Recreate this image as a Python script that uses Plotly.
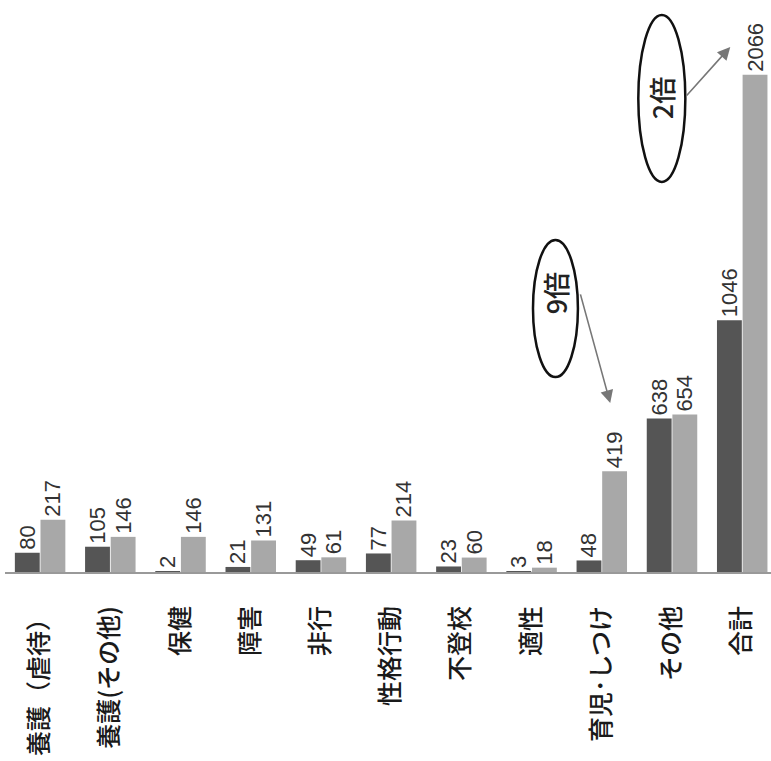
import plotly.graph_objects as go

categories = ["養護（虐待）", "養護(その他)", "保健", "障害", "非行", "性格行動",
              "不登校", "適性", "育児･しつけ", "その他", "合計"]
series_a = [80, 105, 2, 21, 49, 77, 23, 3, 48, 638, 1046]
series_b = [217, 146, 146, 131, 61, 214, 60, 18, 419, 654, 2066]

dark = "#555555"
light = "#a8a8a8"
font_fam = "Noto Sans CJK JP"

fig = go.Figure()
fig.add_trace(go.Bar(x=categories, y=series_a, marker=dict(color=dark, line=dict(width=0)),
                     text=[str(v) for v in series_a], textposition="outside", textangle=-90,
                     constraintext="none",
                     textfont=dict(family="Liberation Sans", size=22, color="#333333"),
                     cliponaxis=False, showlegend=False))
fig.add_trace(go.Bar(x=categories, y=series_b, marker=dict(color=light, line=dict(width=0)),
                     text=[str(v) for v in series_b], textposition="outside", textangle=-90,
                     constraintext="none",
                     textfont=dict(family="Liberation Sans", size=22, color="#333333"),
                     cliponaxis=False, showlegend=False))

# annotation ellipses (data coordinates)
fig.add_shape(type="circle", xref="x", yref="y", x0=7.02, x1=7.66, y0=810, y1=1380,
              line=dict(color="#111111", width=2.5), fillcolor="rgba(0,0,0,0)")
fig.add_shape(type="circle", xref="x", yref="y", x0=8.52, x1=9.19, y0=1621, y1=2315,
              line=dict(color="#111111", width=2.5), fillcolor="rgba(0,0,0,0)")
fig.add_annotation(x=7.34, y=1160, xref="x", yref="y", text="9倍", textangle=-90, showarrow=False,
                   font=dict(family=font_fam, size=27, color="#222222", weight=500))
fig.add_annotation(x=8.855, y=1968, xref="x", yref="y", text="2倍", textangle=-90, showarrow=False,
                   font=dict(family=font_fam, size=27, color="#222222", weight=500))
# arrows
fig.add_annotation(x=8.12, y=702, ax=7.69, ay=1160, xref="x", yref="y", axref="x", ayref="y",
                   text="", showarrow=True, arrowhead=2, arrowsize=1.6, arrowwidth=1.6, arrowcolor="#777777")
fig.add_annotation(x=9.83, y=2182, ax=9.19, ay=1974, xref="x", yref="y", axref="x", ayref="y",
                   text="", showarrow=True, arrowhead=2, arrowsize=1.6, arrowwidth=1.6, arrowcolor="#777777")

fig.update_layout(
    width=771, height=761,
    margin=dict(l=5, r=0, t=0, b=189),
    paper_bgcolor="white", plot_bgcolor="white",
    barmode="group", bargap=0.27, bargroupgap=0.03,
    font=dict(family=font_fam),
)
fig.update_xaxes(range=[-0.5, 10.41], showline=True, linecolor="#999999", linewidth=2,
                 tickangle=-90, ticks="", ticklabelstandoff=22,
                 tickfont=dict(family=font_fam, size=25, color="#1a1a1a", weight=500), showgrid=False)
fig.update_yaxes(range=[0, 2377], visible=False, showgrid=False, zeroline=False)

fig.write_html("out.html")
